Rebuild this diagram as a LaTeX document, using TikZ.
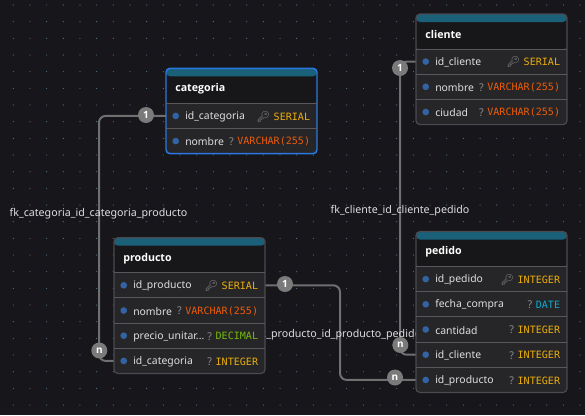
\documentclass[tikz,border=0pt]{standalone}
\usepackage{fontspec}
\usepackage{xcolor}
\usepackage{tikz}
\usetikzlibrary{positioning, backgrounds}
\setmainfont{Noto Sans}
\setmonofont{DejaVu Sans Mono}
\newfontfamily\emojifont{Noto Emoji}
\newfontfamily\titlefont{Open Sans}
\definecolor{CanvasBg}{RGB}{22, 22, 27}
\definecolor{GridDot}{RGB}{78, 118, 146}
\definecolor{HeadTeal}{RGB}{26, 96, 120}
\definecolor{HeadBg}{RGB}{23, 23, 25}
\definecolor{RowBg}{RGB}{38, 38, 40}
\definecolor{TableBorder}{RGB}{74, 74, 80}
\definecolor{RowLine}{RGB}{88, 88, 94}
\definecolor{PickedBlue}{RGB}{42, 120, 225}
\definecolor{FieldDot}{RGB}{50, 100, 165}
\definecolor{FieldText}{RGB}{222, 222, 226}
\definecolor{MarkGrey}{RGB}{140, 140, 145}
\definecolor{TypeAmber}{RGB}{236, 174, 10}
\definecolor{TypeOrange}{RGB}{236, 92, 10}
\definecolor{TypeGreen}{RGB}{118, 186, 10}
\definecolor{TypeCyan}{RGB}{14, 170, 200}
\definecolor{LinkGrey}{RGB}{112, 112, 112}
\definecolor{BadgeGrey}{RGB}{122, 122, 122}
\newcommand{\keymark}{{\emojifont\symbol{"1F511}}}
% one field of a table: name, row above, text, mark, type, colour
\newcommand{\tablerow}[6]{
  \node (#1) [rowbox, below=0pt of #2] {};
  \draw [rowline] (#1.north west) -- (#1.north east);
  \node (#1dot) [fielddot, xshift=7.3pt] at (#1.west) {};
  \node (#1name) [fieldname] at (#1.west) {#3};
  \node (#1type) [fieldtype, text=#6] at (#1.east) {#5};
  \node (#1mark) [fieldmark, left=2.25pt of #1type] {#4};
}
\begin{document}
\begin{tikzpicture}[
    x=0.75pt, y=-0.75pt,
    tablebox/.style={draw=TableBorder, line width=0.9pt, fill=RowBg, rectangle, rounded corners=3pt, anchor=north west, minimum width=113.25pt, inner sep=0pt, outer sep=0pt,
      path picture={
        \fill [HeadBg] (path picture bounding box.north west) rectangle ([yshift=-26.25pt]path picture bounding box.north east);
        \fill [HeadTeal] (path picture bounding box.north west) rectangle ([yshift=-6pt]path picture bounding box.north east);
      }},
    picked/.style={draw=PickedBlue, line width=1.1pt},
    headbox/.style={rectangle, minimum width=113.25pt, minimum height=26.25pt, inner sep=0pt, outer sep=0pt},
    rowbox/.style={rectangle, minimum width=113.25pt, minimum height=18.9pt, inner sep=0pt, outer sep=0pt},
    rowline/.style={draw=RowLine, line width=0.75pt},
    tabletitle/.style={anchor=west, xshift=6.75pt, yshift=-2.4pt, inner sep=0pt, text=white, font=\fontsize{8}{10}\titlefont\bfseries},
    fielddot/.style={circle, fill=FieldDot, minimum size=5pt, inner sep=0pt},
    fieldname/.style={anchor=west, xshift=14.25pt, yshift=-0.7pt, inner sep=0pt, text=FieldText, font=\fontsize{7.8}{10}\selectfont},
    fieldtype/.style={anchor=east, xshift=-5pt, yshift=-0.4pt, inner sep=0pt, font=\fontsize{7.55}{10}\selectfont\ttfamily},
    fieldmark/.style={inner sep=0pt, text=MarkGrey, font=\fontsize{8}{10}\selectfont},
    link/.style={draw=LinkGrey, line width=1.5pt, rounded corners=5pt},
    linklabel/.style={inner sep=0pt, text=FieldText, font=\fontsize{8}{10}\selectfont},
    badge/.style={circle, fill=BadgeGrey, minimum size=12pt, inner sep=0pt, text=white, font=\fontsize{7.5}{9}\titlefont\bfseries}
]
\useasboundingbox (0,0) rectangle (585,415);

\begin{scope}[on background layer]
\fill [CanvasBg] (0,0) rectangle (585,415);
\foreach \i in {0,...,35} {
  \foreach \j in {0,...,24} {
    \fill [GridDot] (13.3+16.67*\i, 5+16.67*\j) circle (0.45pt);
  }
}
\end{scope}

\node (fkcatlabel) [linklabel] at (98.5,214) {fk\_categoria\_id\_categoria\_producto};
\node (fkclilabel) [linklabel] at (400,210.5) {fk\_cliente\_id\_cliente\_pedido};
\node (fkprodlabel) [linklabel] at (339,335) {fk\_producto\_id\_producto\_pedido};

% categoria
\node (cat) [tablebox, picked, minimum height=64.05pt] at (166,68.3) {};
\node (cathead) [headbox, below=0pt of cat.north] {};
\node (cattitle) [tabletitle] at (cathead.west) {categoria};
\tablerow{catid}{cathead}{id\_categoria}{\keymark}{SERIAL}{TypeAmber}
\tablerow{catnom}{catid}{nombre}{?}{VARCHAR(255)}{TypeOrange}

% cliente
\node (cli) [tablebox, minimum height=82.95pt] at (416,14) {};
\node (clihead) [headbox, below=0pt of cli.north] {};
\node (clititle) [tabletitle] at (clihead.west) {cliente};
\tablerow{cliid}{clihead}{id\_cliente}{\keymark}{SERIAL}{TypeAmber}
\tablerow{clinom}{cliid}{nombre}{?}{VARCHAR(255)}{TypeOrange}
\tablerow{cliciu}{clinom}{ciudad}{?}{VARCHAR(255)}{TypeOrange}

% producto
\node (prod) [tablebox, minimum height=101.85pt] at (114,237.7) {};
\node (prodhead) [headbox, below=0pt of prod.north] {};
\node (prodtitle) [tabletitle] at (prodhead.west) {producto};
\tablerow{prodid}{prodhead}{id\_producto}{\keymark}{SERIAL}{TypeAmber}
\tablerow{prodnom}{prodid}{nombre}{?}{VARCHAR(255)}{TypeOrange}
\tablerow{prodpre}{prodnom}{precio\_unitar...}{?}{DECIMAL}{TypeGreen}
\tablerow{prodcat}{prodpre}{id\_categoria}{?}{INTEGER}{TypeAmber}

% pedido
\node (ped) [tablebox, minimum height=120.75pt] at (416,231.5) {};
\node (pedhead) [headbox, below=0pt of ped.north] {};
\node (pedtitle) [tabletitle] at (pedhead.west) {pedido};
\tablerow{pedid}{pedhead}{id\_pedido}{\keymark}{INTEGER}{TypeAmber}
\tablerow{pedfec}{pedid}{fecha\_compra}{?}{DATE}{TypeCyan}
\tablerow{pedcan}{pedfec}{cantidad}{?}{INTEGER}{TypeAmber}
\tablerow{pedcli}{pedcan}{id\_cliente}{?}{INTEGER}{TypeAmber}
\tablerow{pedprod}{pedcli}{id\_producto}{?}{INTEGER}{TypeAmber}

\coordinate (fkcatbend) at (99,240);
\coordinate (fkclibend) at (400,200);
\coordinate (fkprodbend) at (340,330);

\begin{scope}[on background layer]
\draw [link] (catid.west) -| (fkcatbend) |- (prodcat.west);
\draw [link] (cliid.west) -| (fkclibend) |- (pedcli.west);
\draw [link] (prodid.east) -| (fkprodbend) |- (pedprod.west);
\end{scope}

\node (catbadge) [badge] at (146,115) {1};
\node (prodbadge) [badge] at (99.3,350.5) {n};
\node (clibadge) [badge] at (400,68) {1};
\node (pedbadge) [badge] at (400.3,345) {n};
\node (prodidbadge) [badge] at (285,284) {1};
\node (pedprodbadge) [badge] at (395,377.5) {n};

\end{tikzpicture}
\end{document}
